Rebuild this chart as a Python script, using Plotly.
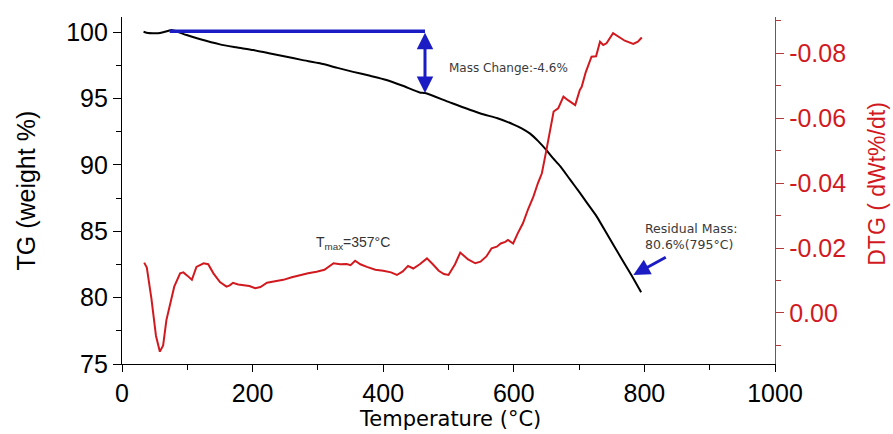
import plotly.graph_objects as go

# ---------------- data ----------------
tg_temp = [33, 40, 48, 55, 63, 70, 76, 85, 99, 120, 150, 175, 201, 225, 252, 275, 303, 330,
           354, 380, 405, 430, 456, 464, 502, 548, 575, 599, 612, 625, 637, 650, 660, 671,
           686, 701, 714, 727, 745, 763, 780, 795]
tg_mass = [100.02, 99.92, 99.9, 99.9, 99.98, 100.08, 100.15, 100.02, 99.77, 99.45, 99.07, 98.85,
           98.64, 98.4, 98.14, 97.9, 97.64, 97.3, 97.0, 96.7, 96.39, 95.95, 95.45, 95.4, 94.7,
           93.88, 93.5, 93.05, 92.75, 92.35, 91.8, 91.1, 90.5, 89.9, 88.9, 87.9, 87.0, 86.1,
           84.6, 83.1, 81.7, 80.4]

dtg_temp = [34, 38, 45, 52, 58, 63, 68, 73, 80, 89, 94, 100, 107, 114, 125, 132, 140, 150, 160,
            165, 170, 178, 186, 195, 204, 212, 222, 235, 247, 260, 273, 285, 298, 310, 324, 334,
            344, 350, 357, 365, 375, 388, 400, 412, 421, 430, 438, 446, 456, 467, 476, 485, 493,
            500, 510, 518, 530, 541, 549, 558, 566, 574, 580, 587, 591, 599, 606, 614, 622, 630,
            637, 643, 650, 655, 661, 668, 676, 683, 694, 701, 704, 710, 719, 726, 732, 737, 742,
            752, 760, 770, 783, 790, 796]
dtg_rate = [-0.0155, -0.0140, -0.0045, 0.0070, 0.0119, 0.0100, 0.0022, -0.0019, -0.0081, -0.0122,
            -0.0125, -0.0115, -0.0102, -0.0142, -0.0153, -0.0150, -0.0122, -0.0095, -0.0081,
            -0.0085, -0.0093, -0.0088, -0.0086, -0.0083, -0.0076, -0.0080, -0.0093, -0.0098,
            -0.0102, -0.0110, -0.0117, -0.0122, -0.0127, -0.0133, -0.0153, -0.0150, -0.0151,
            -0.0147, -0.0161, -0.0150, -0.0142, -0.0133, -0.0130, -0.0125, -0.0117, -0.0128,
            -0.0145, -0.0137, -0.0150, -0.0168, -0.0150, -0.0130, -0.0120, -0.0117, -0.0150,
            -0.0186, -0.0165, -0.0153, -0.0158, -0.0174, -0.0199, -0.0204, -0.0214, -0.0219,
            -0.0225, -0.0214, -0.0245, -0.0276, -0.0320, -0.0358, -0.0400, -0.0430, -0.0502,
            -0.0553, -0.0620, -0.0630, -0.0666, -0.0655, -0.0640, -0.0686, -0.0696, -0.0740,
            -0.0789, -0.0790, -0.0835, -0.0825, -0.0830, -0.0861, -0.0850, -0.0838, -0.0828,
            -0.0835, -0.0848]

x_ticks = [0, 200, 400, 600, 800, 1000]
y_ticks = [75, 80, 85, 90, 95, 100]
y2_ticks = [-0.08, -0.06, -0.04, -0.02, 0.00]
y2_ticktext = ["-0.08", "-0.06", "-0.04", "-0.02", "0.00"]

# annotation values
mass_ref = 100.05          # reference (initial) mass level
mass_ref_start = 73        # start temperature of reference line
mass_change_temp = 464     # temperature of mass-change arrow
mass_change_end = 95.4     # mass at that temperature
residual_temp = 795
residual_mass = 80.6
tmax = 357

BLUE = "#1c1cc4"
RED = "#d11a1f"
RED_AX = "#b23a3a"

fig = go.Figure()

fig.add_trace(go.Scatter(x=tg_temp, y=tg_mass, mode="lines",
                         line=dict(color="black", width=2, shape="spline", smoothing=0.6),
                         yaxis="y", showlegend=False))
fig.add_trace(go.Scatter(x=[mass_ref_start, mass_change_temp], y=[mass_ref, mass_ref],
                         mode="lines", line=dict(color=BLUE, width=3.5), yaxis="y",
                         showlegend=False))
fig.add_trace(go.Scatter(x=dtg_temp, y=dtg_rate, mode="lines",
                         line=dict(color=RED, width=2), yaxis="y2", showlegend=False))

annotations = [
    # double-headed mass change arrow
    dict(x=mass_change_temp, y=mass_change_end, ax=mass_change_temp, ay=mass_ref,
         xref="x", yref="y", axref="x", ayref="y", text="", showarrow=True,
         arrowhead=2, startarrowhead=2, arrowside="end+start", arrowsize=1.1,
         startarrowsize=1.1, arrowwidth=3, arrowcolor=BLUE),
    dict(x=498, y=97.3, xref="x", yref="y", text="Mass Change:-4.6%", showarrow=False,
         xanchor="left", yanchor="middle",
         font=dict(family="DejaVu Sans", size=12, color="#3a3a3a")),
    dict(x=294, y=84.1, xref="x", yref="y", text="T<sub>max</sub>=%d°C" % tmax,
         showarrow=False, xanchor="left", yanchor="middle",
         font=dict(family="Arial", size=14, color="#333333")),
    dict(x=798, y=84.6, xref="x", yref="y",
         text="Residual Mass:<br>%.1f%%(%d°C)" % (residual_mass, residual_temp),
         showarrow=False, xanchor="left", yanchor="middle", align="left",
         font=dict(family="DejaVu Sans", size=12.5, color="#3a3a3a")),
    # residual mass arrow
    dict(x=783, y=81.7, ax=835, ay=83.1, xref="x", yref="y", axref="x", ayref="y",
         text="", showarrow=True, arrowhead=2, arrowsize=1.1, arrowwidth=3,
         arrowcolor=BLUE),
    # axis titles
    dict(x=-0.1485, y=0.5, xref="paper", yref="paper", text="TG (weight %)",
         textangle=-90, showarrow=False, xanchor="center", yanchor="middle",
         font=dict(family="Arial", size=25, color="black")),
    dict(x=0.502, y=-0.158, xref="paper", yref="paper", text="Temperature (°C)",
         showarrow=False, xanchor="center", yanchor="middle",
         font=dict(family="DejaVu Sans", size=21, color="black")),
    dict(x=1.155, y=0.52, xref="paper", yref="paper", text="DTG ( dWt%/dt)",
         textangle=-90, showarrow=False, xanchor="center", yanchor="middle",
         font=dict(family="Arial", size=23, color=RED)),
]

fig.update_layout(
    width=893, height=434,
    margin=dict(l=122, r=118, t=17, b=70),
    paper_bgcolor="white", plot_bgcolor="white",
    annotations=annotations,
    xaxis=dict(range=[0, 1000], tickvals=x_ticks, showgrid=False, zeroline=False,
               showline=True, linecolor="black", linewidth=1.3, ticks="outside",
               ticklen=7, tickcolor="black", tickwidth=1.2,
               minor=dict(dtick=100, tick0=0, ticklen=5, tickcolor="black", ticks="outside"),
               tickfont=dict(family="Arial", size=25, color="black")),
    yaxis=dict(range=[75, 101.13], tickvals=y_ticks, showgrid=False, zeroline=False,
               showline=True, linecolor="black", linewidth=1.3, ticks="outside",
               ticklen=8, tickcolor="black", tickwidth=1.2,
               minor=dict(dtick=2.5, tick0=75, ticklen=5, tickcolor="black", ticks="outside"),
               tickfont=dict(family="Arial", size=25, color="black")),
    yaxis2=dict(overlaying="y", side="right", range=[0.0157, -0.0911],
                tickvals=y2_ticks, ticktext=y2_ticktext, showgrid=False, zeroline=False,
                showline=True, linecolor=RED_AX, linewidth=1.3, ticks="outside",
                ticklen=8, tickcolor=RED_AX, tickwidth=1.2,
                minor=dict(dtick=0.01, tick0=0, ticklen=5, tickcolor=RED_AX, ticks="outside"),
                tickfont=dict(family="Arial", size=25, color=RED)),
)

fig.write_html("out.html")
